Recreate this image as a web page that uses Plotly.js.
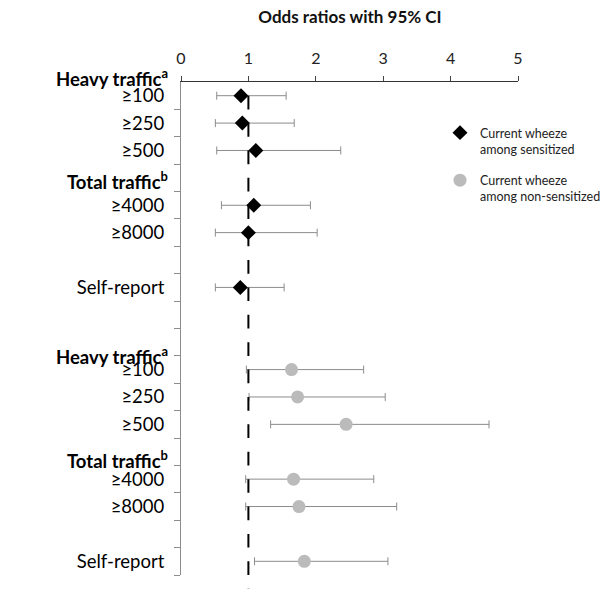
<!DOCTYPE html>
<html>
<head>
<meta charset="utf-8">
<script src="https://cdn.plot.ly/plotly-3.0.1.min.js"></script>
<style>html,body{margin:0;padding:0;background:#fff;}#chart{width:600px;height:589px;}</style>
</head>
<body>
<div id="chart"></div>
<script>
// Row labels of the vertical axis, top to bottom ('' = empty row)
const rowLabels = ['≥100','≥250','≥500','','≥4000','≥8000','','Self-report','',
                   '','≥100','≥250','≥500','','≥4000','≥8000','','Self-report'];
const exposures = ['≥100','≥250','≥500','≥4000','≥8000','Self-report'];

// Current wheeze among sensitized: OR and 95% CI
const sensOR = [0.89, 0.91, 1.11, 1.08, 1.00, 0.88];
const sensLo = [0.53, 0.51, 0.53, 0.60, 0.51, 0.51];
const sensHi = [1.56, 1.68, 2.37, 1.92, 2.02, 1.53];

// Current wheeze among non-sensitized: OR and 95% CI
const nonOR = [1.64, 1.73, 2.45, 1.67, 1.75, 1.83];
const nonLo = [0.97, 1.01, 1.33, 0.96, 0.96, 1.09];
const nonHi = [2.71, 3.03, 4.57, 2.86, 3.20, 3.07];

const xTicks = [0, 1, 2, 3, 4, 5];
const refOR = 1;

const nRows = rowLabels.length;
const rowsA = exposures.map(e => rowLabels.indexOf(e) + 1);
const rowsB = exposures.map(e => rowLabels.lastIndexOf(e) + 1);
const font = 'Lato, "Open Sans", sans-serif';

const traces = [
  {
    type: 'scatter', mode: 'markers', name: 'Current wheeze<br>among sensitized',
    legendgroup: 'a',
    x: sensOR, y: rowsA,
    marker: {symbol: 'diamond', size: 11.5, color: '#000'},
    error_x: {type: 'data', symmetric: false,
      array: sensHi.map((h, i) => h - sensOR[i]),
      arrayminus: sensLo.map((l, i) => sensOR[i] - l),
      color: '#8c8c8c', thickness: 1, width: 4}
  },
  {
    type: 'scatter', mode: 'markers', name: 'Current wheeze<br>among non-sensitized',
    legendgroup: 'b',
    x: nonOR, y: rowsB,
    marker: {symbol: 'circle', size: 13, color: '#bbbbbb'},
    error_x: {type: 'data', symmetric: false,
      array: nonHi.map((h, i) => h - nonOR[i]),
      arrayminus: nonLo.map((l, i) => nonOR[i] - l),
      color: '#8c8c8c', thickness: 1, width: 4}
  }
];

const rowToPaper = r => 1 - (r - 0.5) / nRows;
const headers = [
  {text: 'Heavy traffic<sup>a</sup>', row: 0.35},
  {text: 'Total traffic<sup>b</sup>', row: 4.08},
  {text: 'Heavy traffic<sup>a</sup>', row: 10.47},
  {text: 'Total traffic<sup>b</sup>', row: 14.3}
];

const plotW = 600 - 181 - 82;
const plotH = 589 - 82 - 14;
const rowPx = plotH / nRows;

const layout = {
  width: 600, height: 589,
  margin: {l: 181, r: 82, t: 82, b: 14, autoexpand: false},
  paper_bgcolor: '#fff', plot_bgcolor: '#fff',
  font: {family: font, color: '#000'},
  title: {text: '<b>Odds ratios with 95% CI</b>', x: 350 / 600, xanchor: 'center',
          y: 1 - 17 / 589, yanchor: 'middle', font: {size: 17, family: font, color: '#111'}},
  showlegend: true,
  legend: {x: (440 - 181) / plotW, xanchor: 'left', y: 1 - (118 - 82) / plotH, yanchor: 'top',
           font: {size: 12.5, family: font, color: '#222'}, valign: 'top',
           tracegroupgap: 12, bgcolor: 'rgba(0,0,0,0)'},
  xaxis: {
    side: 'top', range: [0, 5], tickmode: 'array', tickvals: xTicks,
    ticks: 'outside', ticklen: 5, tickcolor: '#444', tickwidth: 1,
    showline: true, linecolor: '#333', linewidth: 1, showgrid: false, zeroline: false,
    tickfont: {size: 16, family: font, color: '#222'}, ticklabelstandoff: 6
  },
  yaxis: {
    range: [nRows + 0.5, 0.5], tickmode: 'array',
    tickvals: rowLabels.map((_, i) => i + 1), ticktext: rowLabels,
    ticks: '', showline: true, linecolor: '#8c8c8c', linewidth: 1,
    showgrid: false, zeroline: false,
    tickfont: {size: 18.5, family: font, color: '#000'}, ticklabelstandoff: 12,
    minor: {tickmode: 'array', tickvals: rowLabels.map((_, i) => i + 1.5),
            ticks: 'outside', ticklen: 6, tickcolor: '#8c8c8c', tickwidth: 1, showgrid: false}
  },
  shapes: [{
    type: 'line', xref: 'x', yref: 'paper', x0: refOR, x1: refOR,
    y0: rowToPaper(1), y1: -14 / plotH,
    line: {color: '#000', width: 2, dash: rowPx / 2 + 'px,' + rowPx / 2 + 'px'}
  }],
  annotations: headers.map(h => ({
    xref: 'paper', yref: 'paper', x: 0, y: rowToPaper(h.row), xanchor: 'right', yanchor: 'middle',
    xshift: -11, showarrow: false, text: '<b>' + h.text + '</b>',
    font: {size: 18.5, family: font, color: '#000'}
  }))
};

Plotly.newPlot('chart', traces, layout, {displayModeBar: false, staticPlot: true});
</script>
</body>
</html>
